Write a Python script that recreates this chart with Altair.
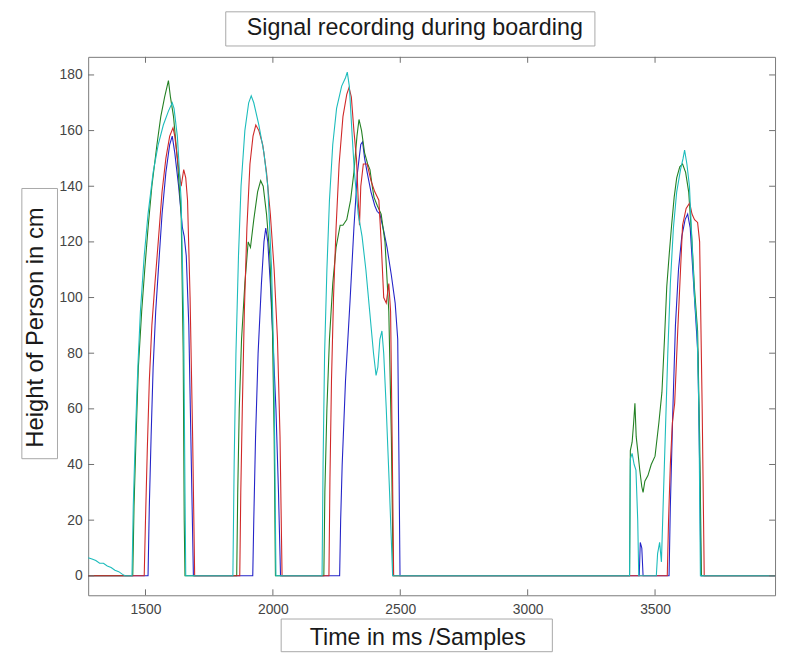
import altair as alt
import pandas as pd

# ---- data ----
blue_pts = [(1275,0),(1510,0),(1515,25),(1522,50),(1530,75),(1540,95),(1552,112),(1565,130),(1580,145),(1595,155),(1605,158),(1615,152),(1630,140),(1645,125),(1652,122),(1660,115),(1670,90),(1680,40),(1688,0),
            (1921,0),(1925,20),(1932,50),(1942,80),(1955,105),(1965,120),(1972,125),(1980,120),(1990,105),(2000,85),(2012,60),(2022,30),(2030,0),
            (2262,0),(2266,20),(2272,40),(2285,70),(2303,99),(2318,125),(2332,145),(2345,155),(2352,156),(2360,150),(2370,145),(2385,138),(2400,133),(2409,131),(2420,130),(2435,124),(2448,118),(2465,108),(2480,98),(2490,85),(2495,40),(2499,0),
            (3438,0),(3442,12),(3448,10),(3453,0),
            (3555,0),(3560,25),(3570,60),(3580,90),(3592,110),(3605,122),(3618,128),(3628,130),(3638,125),(3648,110),(3658,95),(3668,80),(3675,40),(3680,0),(3971,0)]

green_pts = [(1275,0),(1450,0),(1455,25),(1463,50),(1472,75),(1485,95),(1497,110),(1510,125),(1525,140),(1545,155),(1560,165),(1575,172),(1590,178),(1598,172),(1610,165),(1625,150),(1640,130),(1648,80),(1652,20),(1655,0),
             (1858,0),(1862,30),(1868,60),(1877,85),(1890,105),(1903,120),(1912,118),(1925,128),(1940,138),(1952,142),(1962,140),(1975,130),(1988,115),(1998,90),(2005,50),(2010,0),
             (2200,0),(2204,30),(2212,60),(2222,85),(2235,105),(2248,118),(2264,126),(2275,126),(2290,128),(2305,135),(2318,145),(2330,158),(2338,164),(2348,160),(2360,152),(2372,148),(2381,146),(2390,140),(2397,136),(2410,133),(2425,130),(2440,120),(2455,95),(2465,50),(2472,0),
             (3400,0),(3403,45),(3410,48),(3416,55),(3421,62),(3426,50),(3432,45),(3440,38),(3448,32),(3453,30),(3460,34),(3472,36),(3485,40),(3500,43),(3515,55),(3527,66),(3537,85),(3546,104),(3556,116),(3565,126),(3575,136),(3585,143),(3597,147),(3608,148),(3620,145),(3632,138),(3645,120),(3655,103),(3667,88),(3675,50),(3682,0),(3971,0)]

red_pts = [(1275,0),(1495,0),(1500,20),(1507,45),(1515,70),(1525,90),(1537,105),(1550,120),(1565,138),(1580,150),(1595,158),(1608,161),(1615,158),(1625,150),(1640,140),(1650,146),(1658,143),(1665,135),(1675,100),(1685,50),(1693,0),
           (1870,0),(1874,30),(1880,60),(1888,95),(1898,125),(1910,148),(1922,158),(1933,162),(1945,160),(1960,155),(1975,145),(1990,130),(2005,110),(2018,85),(2028,50),(2036,0),
           (2220,0),(2224,35),(2230,70),(2238,100),(2248,125),(2260,148),(2275,165),(2290,173),(2299,175.5),(2308,172),(2318,160),(2328,150),(2335,135),(2340,126),(2345,140),(2355,148),(2370,148),(2385,142),(2400,138),(2416,135),(2425,120),(2435,100),(2445,98),(2455,105),(2462,95),(2468,50),(2474,0),
           (3548,0),(3553,20),(3560,40),(3568,55),(3577,62),(3589,88),(3600,110),(3608,126),(3622,132),(3636,134),(3645,130),(3655,128),(3667,127),(3675,120),(3685,60),(3693,0),(3971,0)]

cyan_pts = [(1275,6.5),(1290,6),(1305,5.5),(1320,4.5),(1335,4.5),(1350,3.5),(1365,3),(1380,2),(1395,1.5),(1410,0.5),(1420,0),(1447,0),(1452,25),(1460,50),(1470,75),(1480,95),(1495,115),(1510,130),(1530,145),(1550,155),(1570,162),(1590,167),(1605,170),(1612,168),(1625,158),(1640,135),(1650,90),(1655,30),(1658,0),
            (1843,0),(1848,40),(1855,80),(1865,115),(1875,140),(1890,160),(1905,170),(1915,172.5),(1925,170),(1945,162),(1965,152),(1980,140),(1995,110),(2003,80),(2008,40),(2012,0),
            (2193,0),(2197,40),(2203,80),(2212,110),(2222,135),(2235,155),(2250,168),(2270,176),(2285,179),(2292,181),(2300,176),(2310,160),(2320,145),(2335,130),(2350,122),(2365,110),(2380,95),(2395,80),(2405,72),(2412,75),(2420,85),(2428,88),(2435,80),(2445,60),(2458,30),(2470,0),
            (3400,0),(3403,42),(3410,44),(3418,40),(3425,38),(3432,20),(3436,0),(3505,0),(3510,8),(3518,12),(3525,5),(3530,20),(3540,50),(3550,80),(3560,105),(3572,125),(3585,138),(3600,146),(3610,150),(3616,153),(3625,148),(3635,140),(3645,120),(3655,100),(3665,88),(3672,60),(3678,0),(3971,0)]

series_names = ["blue", "green", "red", "cyan"]
series_colors = ["#2424c8", "#238023", "#d02828", "#1cbcbc"]
series_pts = [blue_pts, green_pts, red_pts, cyan_pts]

x_ticks = [1500, 2000, 2500, 3000, 3500]
y_ticks = [0, 20, 40, 60, 80, 100, 120, 140, 160, 180]
x_domain = [1275, 3971]
y_domain = [-7, 186.5]

title_text = "Signal recording during boarding"
x_title = "Time in ms /Samples"
y_title = "Height of Person in cm"

W, H = 694, 544
FONT = "Liberation Sans"
xs = alt.Scale(domain=x_domain, nice=False, zero=False)
ys = alt.Scale(domain=y_domain, nice=False, zero=False)
x_axis = alt.Axis(values=x_ticks, title=None, ticks=False, domain=False, grid=False,
                  labelFont=FONT, labelFontSize=14, labelColor="#444444", labelPadding=7, format="d")
y_axis = alt.Axis(values=y_ticks, title=None, ticks=False, domain=False, grid=False,
                  labelFont=FONT, labelFontSize=14, labelColor="#444444", labelPadding=6, format="d")

def X():
    return alt.X("x:Q", scale=xs, axis=x_axis)

def Y():
    return alt.Y("y:Q", scale=ys, axis=y_axis)

layers = []
for name, col, pts in zip(series_names, series_colors, series_pts):
    df = pd.DataFrame({"x": [p[0] for p in pts], "y": [p[1] for p in pts],
                       "i": list(range(len(pts)))})
    layers.append(alt.Chart(df).mark_line(color=col, strokeWidth=1.1).encode(
        x=X(), y=Y(), order="i:Q"))

xt = pd.DataFrame({"x": x_ticks})
yt = pd.DataFrame({"y": y_ticks})
tick_col = "#6f6f6f"
tick_layers = [
    alt.Chart(xt).mark_rule(color=tick_col, strokeWidth=1).encode(
        x=X(), y=alt.value(H), y2=alt.value(H - 6)),
    alt.Chart(xt).mark_rule(color=tick_col, strokeWidth=1).encode(
        x=X(), y=alt.value(0), y2=alt.value(6)),
    alt.Chart(yt).mark_rule(color=tick_col, strokeWidth=1).encode(
        y=Y(), x=alt.value(0), x2=alt.value(6)),
    alt.Chart(yt).mark_rule(color=tick_col, strokeWidth=1).encode(
        y=Y(), x=alt.value(W), x2=alt.value(W - 6)),
]

one = pd.DataFrame({"t": [0]})
box_col = "#a8a8a8"
text_layers = [
    # title box
    alt.Chart(one).mark_rect(fill="white", stroke=box_col, strokeWidth=1).encode(
        x=alt.value(139), x2=alt.value(512), y=alt.value(-45.5), y2=alt.value(-11)),
    alt.Chart(one).mark_text(text=title_text, font=FONT, fontSize=23.5, color="#1a1a1a",
                             align="center", baseline="alphabetic").encode(
        x=alt.value(330), y=alt.value(-22)),
    # x label box
    alt.Chart(one).mark_rect(fill="white", stroke=box_col, strokeWidth=1).encode(
        x=alt.value(195), x2=alt.value(469), y=alt.value(568), y2=alt.value(601)),
    alt.Chart(one).mark_text(text=x_title, font=FONT, fontSize=23.5, color="#1a1a1a",
                             align="center", baseline="alphabetic").encode(
        x=alt.value(333), y=alt.value(594)),
    # y label box
    alt.Chart(one).mark_rect(fill="white", stroke=box_col, strokeWidth=1).encode(
        x=alt.value(-67), x2=alt.value(-31), y=alt.value(133), y2=alt.value(406)),
    alt.Chart(one).mark_text(text=y_title, font=FONT, fontSize=24, color="#1a1a1a",
                             align="center", baseline="alphabetic", angle=270).encode(
        x=alt.value(-46), y=alt.value(273.5)),
]

chart = alt.layer(*layers, *tick_layers, *text_layers).properties(
    width=W, height=H,
    autosize=alt.AutoSizeParams(type="none"),
    padding={"left": 81, "top": 46, "right": 5, "bottom": 59},
    background="white",
).configure_view(stroke="#7a7a7a", strokeWidth=1)

chart.save("out.html", embed_options={"renderer": "svg", "actions": False})
